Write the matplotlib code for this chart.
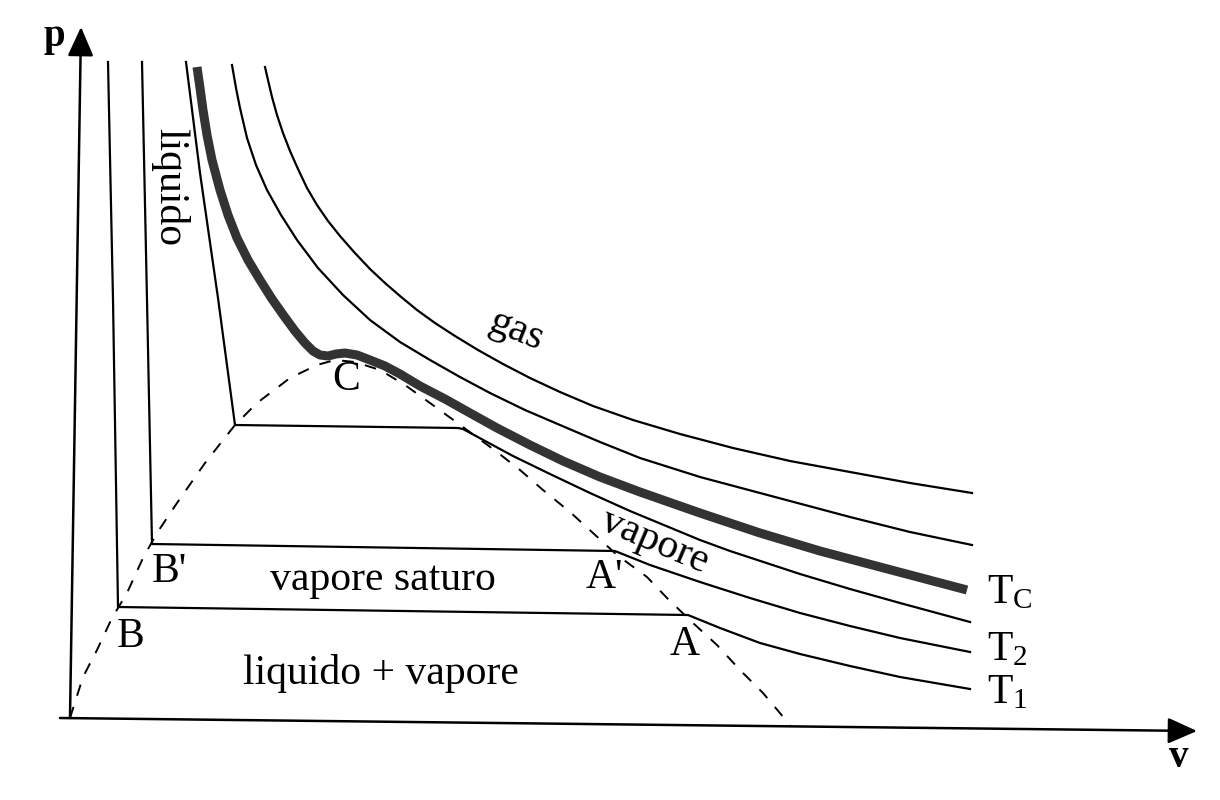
import numpy as np
import matplotlib
matplotlib.use("Agg")
import matplotlib.pyplot as plt

plt.rcParams['font.family'] = ['Liberation Serif', 'DejaVu Serif']
plt.rcParams['mathtext.fontset'] = 'custom'
plt.rcParams['mathtext.rm'] = 'Liberation Serif'

# isotherms (v to the right, p downward in picture units)
t1_v = [108, 113, 118, 688, 720, 760, 800, 850, 900, 970]
t1_p = [62, 300, 607, 615, 628, 643, 654, 666, 677, 689]

t2_v = [142, 147, 152, 615, 650, 700, 750, 800, 850, 900, 970]
t2_p = [62, 300, 544, 551, 565, 582, 598, 613, 626, 638, 652]

t3_v = [186, 200, 218, 235, 458, 463, 487, 513, 550, 590, 630, 700, 730, 800, 850, 900, 970]
t3_p = [62, 173, 298, 425, 428, 429, 442, 456, 474, 493, 511, 540, 551, 574, 589, 603, 622]

tc_v = [197, 200, 203, 207, 212, 220, 228, 237, 248, 260, 272, 284, 295, 305, 313, 320, 328,
        336, 345, 357, 370, 385, 400, 420, 445, 470, 497, 530, 563, 600, 640, 700, 760, 820,
        880, 967]
tc_p = [67, 88, 110, 135, 160, 190, 215, 238, 260, 280, 299, 316, 331, 343, 351, 355, 356,
        354, 353, 355, 360, 366, 374, 386, 399, 413, 428, 445, 461, 477, 492, 513, 533, 551,
        567, 590]

t4_v = [232, 236, 240, 247, 256, 267, 281, 297, 318, 343, 370, 400, 430, 460, 490, 525, 567,
        600, 640, 700, 760, 850, 910, 972]
t4_p = [65, 88, 108, 138, 165, 190, 215, 240, 268, 295, 320, 342, 360, 377, 393, 410, 428,
        442, 458, 477, 493, 517, 532, 545]

t5_v = [265, 268, 272, 277, 283, 290, 298, 307, 317, 328, 340, 354, 370, 385, 400, 417, 435,
        455, 478, 503, 530, 560, 593, 633, 680, 733, 790, 850, 910, 972]
t5_p = [67, 80, 97, 115, 133, 151, 169, 188, 205, 221, 236, 252, 269, 283, 296, 310, 323,
        336, 350, 364, 378, 392, 406, 420, 434, 448, 461, 472, 483, 493]

# saturation dome (dashed)
dome_v = [70, 83, 97, 112, 127, 143, 157, 177, 205, 235, 257, 290, 317, 335, 355, 380, 405,
          430, 463, 497, 520, 543, 570, 593, 617, 647, 667, 693, 717, 740, 763, 790]
dome_p = [718, 677, 650, 618, 593, 558, 533, 503, 463, 425, 403, 378, 365, 360, 362, 370, 385,
          403, 427, 452, 470, 490, 512, 533, 555, 577, 598, 623, 645, 670, 693, 725]

fig = plt.figure(figsize=(12.2, 8), dpi=100)
ax = fig.add_axes([0, 0, 1, 1])
ax.set_xlim(0, 1220)
ax.set_ylim(800, 0)
ax.axis('off')

thin = dict(color='black', lw=1.6, solid_joinstyle='round')
for vv, pp in [(t1_v, t1_p), (t2_v, t2_p), (t3_v, t3_p), (t4_v, t4_p), (t5_v, t5_p)]:
    ax.plot(vv, pp, **thin)
ax.plot(tc_v, tc_p, color='#333333', lw=6.5, solid_capstyle='butt', solid_joinstyle='round')
ax.plot(dome_v, dome_p, color='black', lw=1.4, linestyle=(0, (6, 6)))

# axes with arrows
arrow = dict(arrowstyle='-|>,head_length=0.9,head_width=0.4', lw=1.8, color='black',
             mutation_scale=20, shrinkA=0, shrinkB=0)
ax.annotate('', xy=(81, 27), xytext=(70, 718), arrowprops=arrow)
ax.annotate('', xy=(1197, 731), xytext=(60, 718), arrowprops=arrow)

ax.text(54, 46, 'p', fontsize=28, fontweight='bold', ha='center', va='baseline')
ax.text(1179, 767, 'v', fontsize=28, fontweight='bold', ha='center', va='baseline')

fs = 30
ax.text(170, 187, 'liquido', fontsize=fs, rotation=270, ha='center', va='center')
ax.text(516, 331, 'gas', fontsize=fs, rotation=-22, ha='center', va='center')
ax.text(655, 541, 'vapore', fontsize=fs, rotation=-23, ha='center', va='center')
ax.text(346, 390, 'C', fontsize=fs, ha='center', va='baseline')
ax.text(152, 582, "B'", fontsize=fs, ha='left', va='baseline')
ax.text(117, 647, 'B', fontsize=fs, ha='left', va='baseline')
ax.text(586, 588, "A'", fontsize=fs, ha='left', va='baseline')
ax.text(670, 655, 'A', fontsize=fs, ha='left', va='baseline')
ax.text(383, 590, 'vapore saturo', fontsize=fs, ha='center', va='baseline')
ax.text(381, 684, 'liquido + vapore', fontsize=fs, ha='center', va='baseline')

ax.text(987, 603, r'$\mathregular{T_C}$', fontsize=fs, ha='left', va='baseline')
ax.text(987, 660, r'$\mathregular{T_2}$', fontsize=fs, ha='left', va='baseline')
ax.text(987, 703, r'$\mathregular{T_1}$', fontsize=fs, ha='left', va='baseline')

fig.savefig('out.png', dpi=100)
